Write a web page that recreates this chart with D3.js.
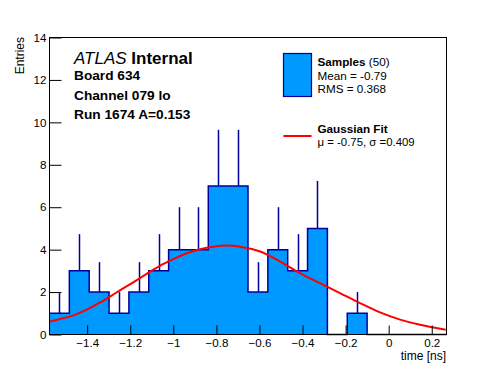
<!DOCTYPE html>
<html>
<head>
<meta charset="utf-8">
<script src="https://cdnjs.cloudflare.com/ajax/libs/d3/7.8.5/d3.min.js"></script>
<style>
body{margin:0;background:#fff;}
svg{display:block;font-family:"Liberation Sans",Arial,Helvetica,sans-serif;}
</style>
</head>
<body>
<div id="timing-hist"></div>
<script>
// histogram range and the 20 bin contents / upper errors
var xRange = [-1.575, 0.2685];
var yRange = [0, 14];
var binCounts = [1, 3, 2, 1, 2, 3, 4, 4, 7, 7, 2, 4, 3, 5, 0, 1, 0, 0, 0, 0];
var binErrors = [1, 1.73, 1.41, 1, 1.41, 1.73, 2, 2, 2.65, 2.65, 1.41, 2, 1.73, 2.24, 0, 1, 0, 0, 0, 0];

// points
var fitX = [-1.575, -1.526, -1.464, -1.402, -1.340, -1.294, -1.248, -1.186, -1.124, -1.062, -1.000, -0.938, -0.876,
            -0.814, -0.752, -0.690, -0.597, -0.504, -0.412, -0.319, -0.226, -0.133, -0.040, 0.053, 0.146, 0.265];
var fitY = [0.60, 0.73, 0.90, 1.17, 1.51, 1.79, 2.08, 2.46, 2.86, 3.24, 3.55, 3.83, 4.02,
            4.14, 4.19, 4.14, 3.91, 3.44, 2.89, 2.42, 1.95, 1.48, 1.04, 0.70, 0.46, 0.22];

var xTicks = [-1.4, -1.2, -1, -0.8, -0.6, -0.4, -0.2, 0, 0.2];
var yTicks = [0, 2, 4, 6, 8, 10, 12, 14];
var infoLines = ["Board 634", "Channel 079 lo", "Run 1674 A=0.153"];
var sampleLegend = ["Samples", " (50)", "Mean = -0.79", "RMS = 0.368"];
var fitLegend = ["Gaussian Fit", "\u03bc = -0.75, \u03c3 =0.409"];

/**
 * Constructor for the timing histogram
 */
function TimingHist(){
    var self = this;
    self.init();
};

/**
 * Sets up the svg and the scales
 */
TimingHist.prototype.init = function(){
    var self = this;
    self.svgWidth = 496;
    self.svgHeight = 372;
    // ROOT style frame: 10% margin on every side
    self.frame = {left: 49.5, right: 446.5, top: 37.5, bottom: 334.5};

    self.svg = d3.select("#timing-hist").append("svg")
        .attr("width", self.svgWidth)
        .attr("height", self.svgHeight);

    self.x = d3.scaleLinear().domain(xRange).range([self.frame.left, self.frame.right]);
    self.y = d3.scaleLinear().domain(yRange).range([self.frame.bottom, self.frame.top]);
};

/**
 * Draws the filled histogram, error bars, fit and the text
 */
TimingHist.prototype.update = function(){
    var self = this;
    var x = self.x, y = self.y, svg = self.svg;
    var nBins = binCounts.length;
    var binW = (xRange[1] - xRange[0]) / nBins;

    // step points: one per bin low edge plus the last high edge
    var steps = binCounts.map(function(c, i){ return {lo: xRange[0] + i * binW, c: c}; });
    steps.push({lo: xRange[1], c: binCounts[nBins - 1]});

    svg.append("path")
        .datum(steps)
        .attr("d", d3.area().curve(d3.curveStepAfter)
            .x(function(d){ return x(d.lo); })
            .y0(y(0))
            .y1(function(d){ return y(d.c); }))
        .style("fill", "#0099ff");

    svg.append("path")
        .datum(steps)
        .attr("d", d3.line().curve(d3.curveStepAfter)
            .x(function(d){ return x(d.lo); })
            .y(function(d){ return y(d.c); }))
        .style("fill", "none")
        .style("stroke", "#000099")
        .style("stroke-width", 1.5);

    // error bars, only the upper half shows
    svg.append("g").selectAll("line")
        .data(binCounts.map(function(c, i){ return {c: c, e: binErrors[i], mid: xRange[0] + (i + 0.5) * binW}; })
            .filter(function(d){ return d.c > 0; }))
        .enter().append("line")
        .attr("x1", function(d){ return Math.round(x(d.mid)) + 0.5; })
        .attr("x2", function(d){ return Math.round(x(d.mid)) + 0.5; })
        .attr("y1", function(d){ return y(d.c); })
        .attr("y2", function(d){ return y(d.c + d.e); })
        .style("stroke", "#000099")
        .style("stroke-width", 1.5);

    // gaussian fit
    svg.append("path")
        .datum(fitX.map(function(v, i){ return [v, fitY[i]]; }))
        .attr("d", d3.line().curve(d3.curveMonotoneX)
            .x(function(d){ return x(d[0]); })
            .y(function(d){ return y(d[1]); }))
        .style("fill", "none")
        .style("stroke", "#ff0000")
        .style("stroke-width", 2);

    // axes: minor and major ticks drawn inward
    var xMinor = d3.range(-32, 6).map(function(i){ return i * 0.05; })
        .filter(function(v){ return v > xRange[0] && v < xRange[1]; });
    var yMinor = d3.range(0, 36).map(function(i){ return i * 0.4; });

    var gx = svg.append("g").attr("transform", "translate(0," + self.frame.bottom + ")");
    gx.call(d3.axisBottom(x).tickValues(xMinor).tickSize(-4.5).tickFormat(""));
    gx.call(d3.axisBottom(x).tickValues(xTicks).tickSize(-9).tickPadding(4).tickFormat(d3.format("")));

    var gy = svg.append("g").attr("transform", "translate(" + self.frame.left + ",0)");
    gy.call(d3.axisLeft(y).tickValues(yMinor).tickSize(-6).tickFormat(""));
    gy.call(d3.axisLeft(y).tickValues(yTicks).tickSize(-12).tickPadding(3).tickFormat(d3.format("")));

    svg.selectAll(".domain").remove();
    svg.selectAll(".tick line").style("stroke", "#000");
    svg.selectAll(".tick text").style("font-size", "11.6px").style("fill", "#000")
        .style("font-family", "'Liberation Sans',Arial,sans-serif");

    svg.append("rect")
        .attr("x", self.frame.left).attr("y", self.frame.top)
        .attr("width", self.frame.right - self.frame.left)
        .attr("height", self.frame.bottom - self.frame.top)
        .style("fill", "none").style("stroke", "#000").style("stroke-width", 1);

    // axis titles
    svg.append("text")
        .attr("x", self.frame.right - 0.5).attr("y", 359.5)
        .style("text-anchor", "end").style("font-size", "12px")
        .text("time [ns]");
    svg.append("text")
        .attr("transform", "translate(23.5," + (self.frame.top - 0.5) + ") rotate(-90)")
        .style("text-anchor", "end").style("font-size", "12px")
        .text("Entries");

    // ATLAS label and run info
    var atlas = svg.append("text").attr("x", 74).attr("y", 64.3).style("font-size", "17px");
    atlas.append("tspan").style("font-style", "italic").text("ATLAS");
    atlas.append("tspan").style("font-weight", "bold").text(" Internal");

    svg.append("g").selectAll("text")
        .data(infoLines).enter().append("text")
        .attr("x", 74)
        .attr("y", function(d, i){ return 80.3 + i * 19.2; })
        .style("font-size", "13.7px").style("font-weight", "bold")
        .text(function(d){ return d; });

    // legend
    var leg = svg.append("g");
    leg.append("rect")
        .attr("x", 283.5).attr("y", 53.5).attr("width", 28).attr("height", 43)
        .style("fill", "#0099ff").style("stroke", "#000099").style("stroke-width", 1.2);
    var t1 = leg.append("text").attr("x", 317.5).attr("y", 66).style("font-size", "11.7px");
    t1.append("tspan").style("font-weight", "bold").text(sampleLegend[0]);
    t1.append("tspan").text(sampleLegend[1]);
    leg.append("text").attr("x", 317.5).attr("y", 80).style("font-size", "11.7px").text(sampleLegend[2]);
    leg.append("text").attr("x", 317.5).attr("y", 93.3).style("font-size", "11.7px").text(sampleLegend[3]);

    leg.append("line")
        .attr("x1", 283.5).attr("x2", 311.5).attr("y1", 136).attr("y2", 136)
        .style("stroke", "#ff0000").style("stroke-width", 2);
    leg.append("text").attr("x", 317.5).attr("y", 132.6)
        .style("font-size", "11.7px").style("font-weight", "bold").text(fitLegend[0]);
    leg.append("text").attr("x", 317.5).attr("y", 146)
        .style("font-size", "11.4px").text(fitLegend[1]);
};

var chart = new TimingHist();
chart.update();
</script>
</body>
</html>
